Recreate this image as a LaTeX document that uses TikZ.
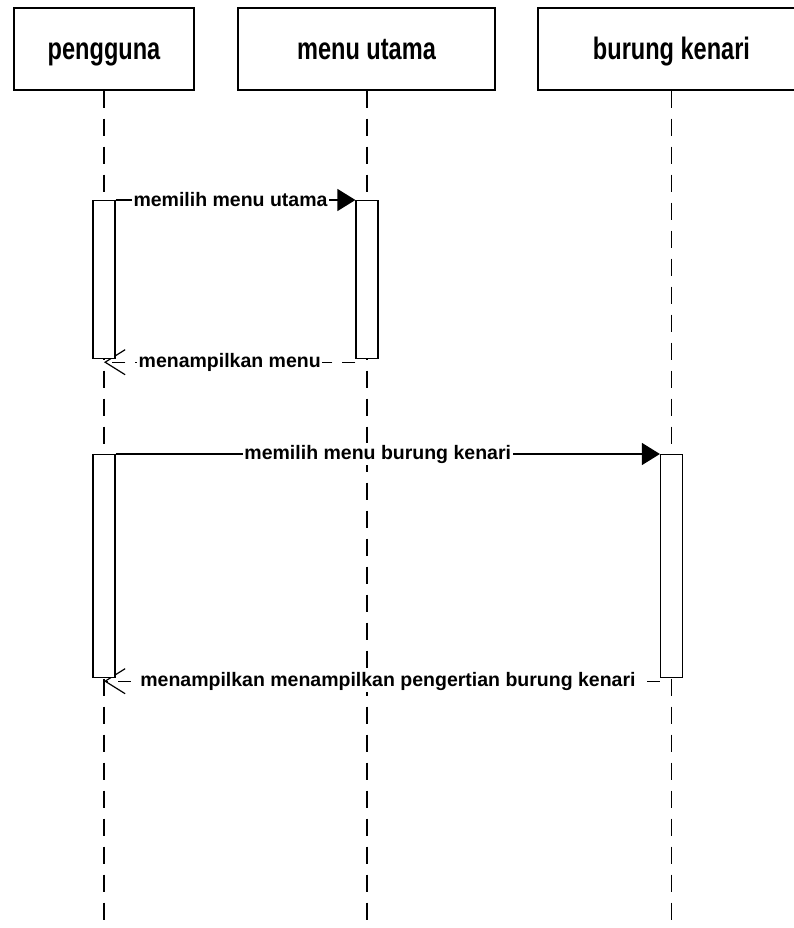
\documentclass[tikz,border=0pt]{standalone}
\usepackage{fontspec}
\setmainfont{Liberation Sans}
\newfontfamily\headfont[FakeStretch=0.76]{Liberation Sans}
\usetikzlibrary{arrows.meta,positioning,backgrounds}

\begin{document}
\begin{tikzpicture}[x=1pt,y=-1pt,
  head/.style={draw,line width=1.3pt,minimum height=82,text height=26pt,text depth=4pt,font=\headfont\bfseries\fontsize{31}{31}\selectfont},
  act/.style={draw,fill=white,line width=1.2pt,minimum width=22,inner sep=0pt,anchor=north},
  life/.style={line width=1.2pt,dash pattern=on 17pt off 11pt},
  msg/.style={line width=1.2pt,-{Triangle[length=18pt,width=22pt]}},
  ret/.style={line width=1.2pt,dash pattern=on 13pt off 10pt,-{Straight Barb[length=20pt,width=25pt]}},
  lbl/.style={fill=white,inner sep=1.5pt,font=\bfseries\fontsize{19.5}{20}\selectfont}]
\useasboundingbox (0,0) rectangle (793,928);

% Objects
\node[head,minimum width=180] (pengguna) at (104,49) {pengguna};
\node[head,minimum width=257] (menu) at (366.5,49) {menu utama};
\node[head,minimum width=267] (kenari) at (671.5,49) {burung kenari};

\coordinate (pengguna end) at (104,928);
\coordinate (menu end) at (367,928);
\coordinate (kenari end) at (671.5,928);

% Activations
\node[act,minimum height=158] (pa1) at (104,200) {};
\node[act,minimum height=158] (ma1) at (367,200) {};
\node[act,minimum height=223] (pa2) at (104,454) {};
\node[act,minimum height=223] (ka1) at (671.5,454) {};

\begin{scope}[on background layer]
\draw[life] (pengguna.south) -- (pengguna end);
\draw[life] (menu.south -| menu end) -- (menu end);
\draw[life] (kenari.south) -- (kenari end);

% Messages
\draw[msg] (pa1.north east) -- node[lbl,xshift=-5]{memilih menu utama} (ma1.north west);
\draw[ret] ([yshift=-3pt]ma1.south west) -- node[lbl]{menampilkan menu} ([yshift=-3pt]pa1.south);
\draw[msg] (pa2.north east) -- node[lbl,xshift=-10]{memilih menu burung kenari} (ka1.north west);
\draw[ret] ([yshift=-3pt]ka1.south west) -- node[lbl,xshift=6]{menampilkan menampilkan pengertian burung kenari} ([yshift=-3pt]pa2.south);
\end{scope}
\end{tikzpicture}
\end{document}
